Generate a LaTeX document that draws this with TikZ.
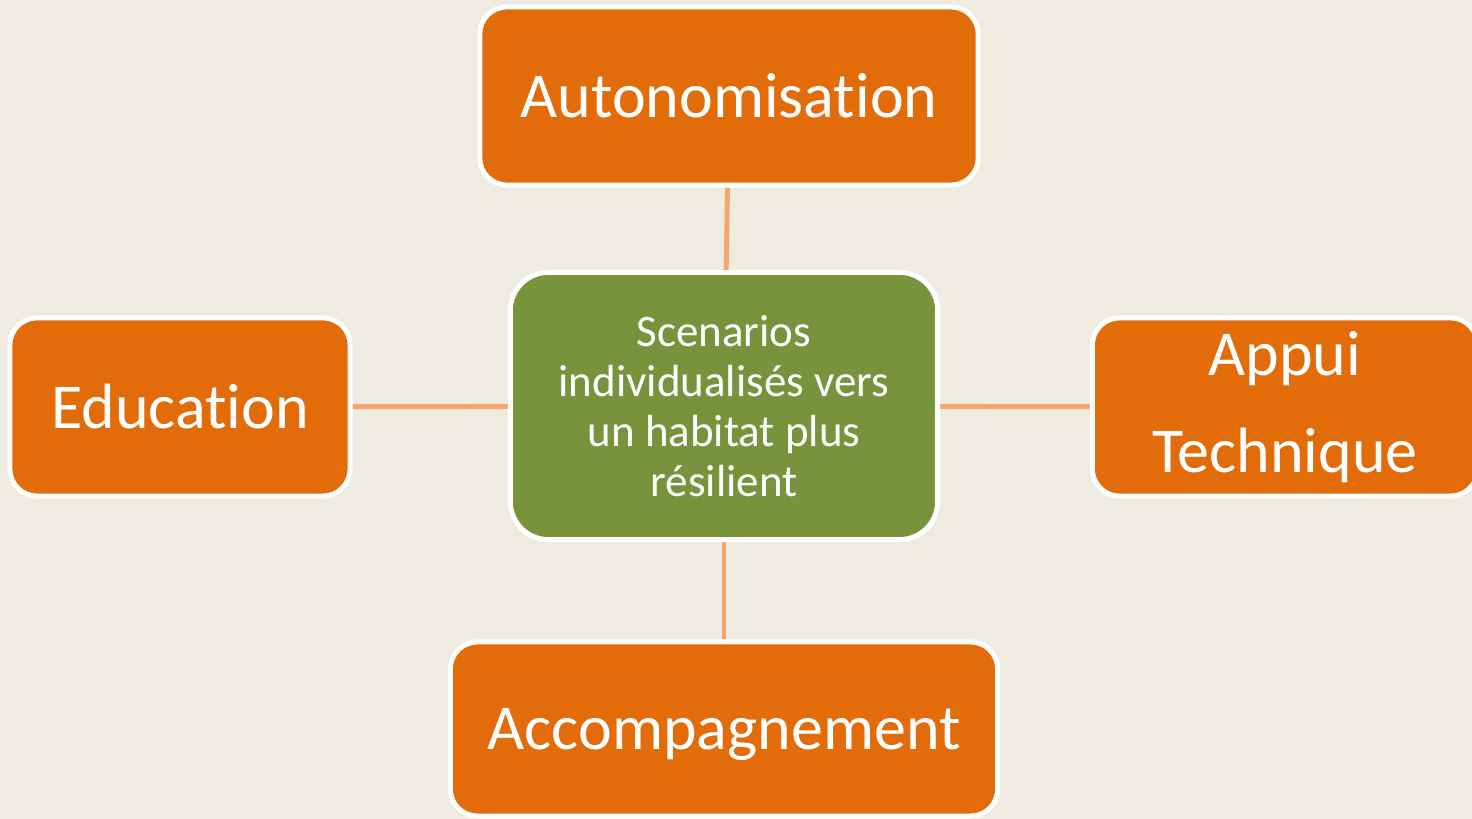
\documentclass[tikz,border=0pt]{standalone}
\usepackage{fontspec}
\setmainfont{Carlito}[Ligatures=NoCommon]
\usetikzlibrary{backgrounds}

\definecolor{paper}{HTML}{EEECE1}
\definecolor{boxorange}{HTML}{E36C0A}
\definecolor{hubgreen}{HTML}{77933C}
\definecolor{linkorange}{HTML}{F8A46C}

\begin{document}
\begin{tikzpicture}[
    x=0.01cm, y=-0.01cm,
    theme/.style={draw=white, line width=1.4pt, text=white, align=center, inner sep=0pt},
    branch/.style={theme, fill=boxorange, rounded corners=0.27cm, minimum height=1.78cm,
      font=\fontsize{18.2}{27.6}\selectfont},
    hub/.style={theme, fill=hubgreen, rounded corners=0.38cm,
      font=\fontsize{12.8}{14.2}\selectfont},
    link/.style={linkorange, line width=1.4pt}
  ]
   \useasboundingbox (0, 0) rectangle (1472, 819);

   % boxes
   \node[hub, minimum width=4.27cm, minimum height=2.67cm] (hub) at (724, 406)
     {Scenarios\\individualisés vers\\un habitat plus\\résilient};
   \node[branch, minimum width=4.98cm] (auto) at (729, 96) {Autonomisation};
   \node[branch, minimum width=3.40cm] (edu) at (180, 407) {Education};
   \node[branch, minimum width=3.85cm] (appui) at (1285, 407) {Appui\\Technique};
   \node[branch, minimum width=5.47cm, minimum height=1.74cm, text depth=0pt] (accomp)
     at (724, 729) {Accompagnement};

   % links
   \begin{scope}[on background layer]
     \fill[paper] (0, 0) rectangle (1472, 819);
     \draw[link] (auto) -- (hub);
     \draw[link] (edu) -- (hub);
     \draw[link] (hub) -- (appui);
     \draw[link] (hub) -- (accomp);
   \end{scope}
\end{tikzpicture}
\end{document}
